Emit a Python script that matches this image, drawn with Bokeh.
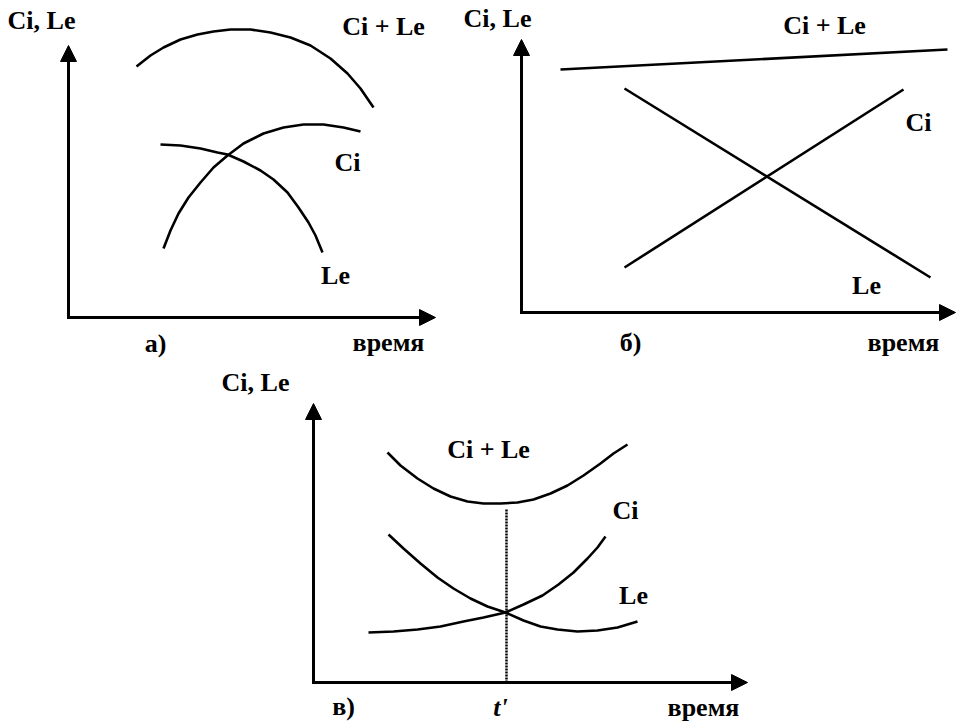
from bokeh.plotting import figure
from bokeh.models import Range1d, Label, Arrow, NormalHead
from bokeh.layouts import column, row
from bokeh.embed import file_html
from bokeh.resources import INLINE

# ---------------- data (time, value) ----------------
# panel а)
a_sum_t = [6.8, 8.2, 9.5, 11.2, 12.9, 14.5, 16.2, 18.2, 20.2, 22.2, 24.2, 26.2, 27.9, 29.2, 30.5]
a_sum_v = [25.1, 26.2, 27.0, 27.8, 28.3, 28.6, 28.8, 28.8, 28.5, 28.0, 27.2, 25.9, 24.4, 22.9, 21.0]
a_ci_t = [9.5, 10.2, 11.0, 12.0, 13.2, 14.5, 15.9, 17.5, 19.5, 21.5, 23.5, 25.5, 27.5, 29.2]
a_ci_v = [6.9, 8.7, 10.4, 12.0, 13.5, 15.0, 16.2, 17.4, 18.4, 19.0, 19.3, 19.3, 19.0, 18.6]
a_le_t = [9.2, 11.2, 13.2, 14.9, 15.9, 17.5, 19.2, 20.5, 21.9, 23.0, 24.0, 24.7, 25.4]
a_le_v = [17.3, 17.2, 16.9, 16.5, 16.3, 15.6, 14.7, 13.8, 12.5, 11.0, 9.5, 8.2, 6.5]

# panel б)
b_sum_t = [3.9, 42.6]
b_sum_v = [24.3, 26.3]
b_ci_t = [10.3, 38.2]
b_ci_v = [4.5, 22.3]
b_le_t = [10.3, 40.9]
b_le_v = [22.4, 3.5]

# panel в)
c_sum_t = [7.4, 8.7, 10.4, 12.0, 13.7, 15.4, 17.0, 18.7, 20.4, 22.0, 23.7, 25.4, 27.0, 28.7, 30.0, 31.4]
c_sum_v = [23.0, 21.7, 20.4, 19.4, 18.6, 18.1, 17.9, 17.9, 18.0, 18.3, 18.9, 19.7, 20.7, 21.9, 22.9, 23.8]
c_ci_t = [5.5, 8.0, 10.4, 12.7, 15.0, 17.0, 19.2, 21.0, 22.9, 24.5, 26.0, 27.4, 28.4, 29.2]
c_ci_v = [5.0, 5.1, 5.3, 5.6, 6.1, 6.5, 7.0, 7.8, 8.7, 9.8, 11.0, 12.4, 13.5, 14.6]
c_le_t = [7.5, 9.0, 10.7, 12.4, 14.0, 15.7, 17.4, 19.2, 21.0, 22.7, 24.4, 26.4, 28.4, 30.4, 32.4]
c_le_v = [14.8, 13.4, 11.9, 10.5, 9.4, 8.4, 7.6, 7.0, 6.2, 5.6, 5.3, 5.1, 5.2, 5.5, 6.1]
t_prime = 19.3
c_sum_min = 17.4

FONT = "Liberation Serif"
LW = 2.6


def make_panel(width, height, xr, yr):
    p = figure(width=width, height=height,
               x_range=Range1d(*xr), y_range=Range1d(*yr),
               output_backend="svg", toolbar_location=None,
               min_border=0, x_axis_location=None, y_axis_location=None,
               outline_line_color=None,
               background_fill_color="white", border_fill_color="white")
    p.grid.visible = False
    return p


def add_axes(p, xtip, ytip):
    for (xs, ys, xe, ye) in [(-0.15, 0, xtip, 0), (0, -0.15, 0, ytip)]:
        p.add_layout(Arrow(end=NormalHead(size=16, fill_color="black",
                                          line_color="black", line_width=1),
                           x_start=xs, y_start=ys, x_end=xe, y_end=ye,
                           line_width=3, line_color="black"))


def curve(p, t, v):
    p.line(t, v, line_width=LW, line_color="black", line_join="round")


def lab(p, x, y, text, style="bold"):
    p.add_layout(Label(x=x, y=y, text=text, text_align="center",
                       text_baseline="middle", text_font=FONT,
                       text_font_style=style, text_font_size="26px",
                       text_color="black"))


# ---------------- panel а ----------------
pa = make_panel(450, 358, (-6.8, 38.2), (-4.1, 31.7))
curve(pa, a_sum_t, a_sum_v)
curve(pa, a_ci_t, a_ci_v)
curve(pa, a_le_t, a_le_v)
add_axes(pa, 36.7, 27.2)
lab(pa, -2.7, 29.7, "Ci, Le")
lab(pa, 31.5, 29.1, "Ci + Le")
lab(pa, 27.9, 15.5, "Ci")
lab(pa, 26.7, 4.2, "Le")
lab(pa, 8.7, -2.6, "а)")
lab(pa, 32.0, -2.5, "время")

# ---------------- panel б ----------------
pb = make_panel(507, 358, (-7.1, 43.6), (-4.6, 31.2))
curve(pb, b_sum_t, b_sum_v)
curve(pb, b_ci_t, b_ci_v)
curve(pb, b_le_t, b_le_v)
add_axes(pb, 43.4, 27.3)
lab(pb, -2.4, 29.4, "Ci, Le")
lab(pb, 30.3, 28.7, "Ci + Le")
lab(pb, 39.7, 19.0, "Ci")
lab(pb, 34.5, 2.7, "Le")
lab(pb, 10.9, -3.0, "б)")
lab(pb, 38.2, -3.0, "время")

# ---------------- panel в ----------------
pc = make_panel(957, 365, (-31.3, 64.4), (-4.1, 32.4))
curve(pc, c_sum_t, c_sum_v)
curve(pc, c_ci_t, c_ci_v)
curve(pc, c_le_t, c_le_v)
pc.line([t_prime, t_prime], [0, c_sum_min], line_width=2.5,
        line_color="black", line_dash="2 1")
add_axes(pc, 43.4, 27.9)
lab(pc, -5.8, 30.0, "Ci, Le")
lab(pc, 17.5, 23.3, "Ci + Le")
lab(pc, 31.2, 17.2, "Ci")
lab(pc, 32.0, 8.7, "Le")
lab(pc, 3.0, -2.4, "в)")
lab(pc, 18.7, -2.5, "t'", style="bold italic")
lab(pc, 39.0, -2.5, "время")

layout = column(row(pa, pb), pc)

open("out.html", "w").write(file_html(layout, INLINE))
